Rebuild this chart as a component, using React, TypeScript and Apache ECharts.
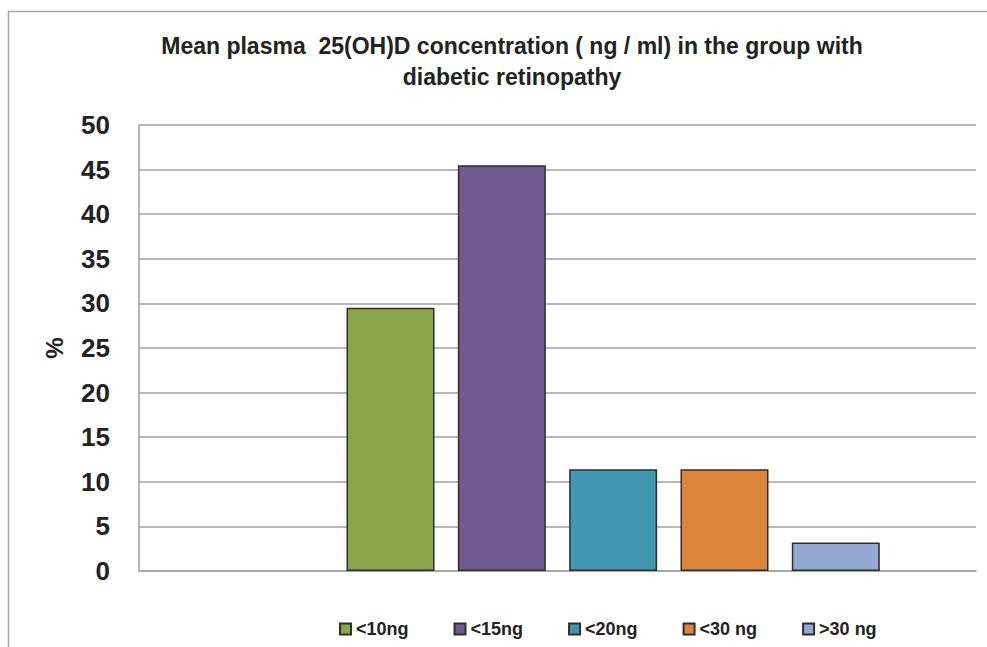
import React, { useEffect, useRef } from "react";
import * as echarts from "echarts";

const categories = [""];
const seriesNames = ["<10ng", "<15ng", "<20ng", "<30 ng", ">30 ng"];
const seriesValues = [29.5, 45.5, 11.4, 11.4, 3.2];
const seriesColors = ["#88A54A", "#715A8F", "#4197AF", "#DC853B", "#94A9D2"];
const yTicks = [0, 5, 10, 15, 20, 25, 30, 35, 40, 45, 50];
const titleLines = [
  "Mean plasma  25(OH)D concentration ( ng / ml) in the group with",
  "diabetic retinopathy",
];

export default function App() {
  const ref = useRef<HTMLDivElement>(null);
  useEffect(() => {
    document.body.style.margin = "0";
    const chart = echarts.init(ref.current!, null, { renderer: "svg" });
    const font = "'Liberation Sans', Arial, sans-serif";
    const blank = (name: string) => ({
      name,
      type: "bar",
      data: categories.map(() => null),
      barWidth: 88,
      barGap: "26.5%",
    });
    const real = seriesNames.map((name, i) => ({
      name,
      type: "bar",
      data: [seriesValues[i]],
      barWidth: 88,
      barGap: "26.5%",
      itemStyle: { color: seriesColors[i], borderColor: "#2f2f2f", borderWidth: 1.5 },
    }));
    chart.setOption({
      animation: false,
      backgroundColor: "#ffffff",
      title: {
        text: titleLines.join("\n"),
        left: 507,
        textAlign: "center",
        top: 25,
        textStyle: { fontFamily: font, fontWeight: "bold", fontSize: 23, color: "#222", lineHeight: 31 },
      },
      graphic: [
        {
          type: "rect",
          shape: { x: 8.5, y: 11.5, width: 1200, height: 800 },
          style: { fill: "none", stroke: "#a6a6a6", lineWidth: 1.5 },
          silent: true,
          z: -10,
        },
      ],
      legend: {
        data: seriesNames,
        bottom: 4,
        left: 334,
        itemWidth: 11,
        itemHeight: 11,
        itemGap: 45,
        icon: "rect",
        textStyle: { fontFamily: font, fontWeight: "bold", fontSize: 18, color: "#222" },
      },
      grid: { left: 139, right: 11, top: 125, bottom: 76, containLabel: false },
      xAxis: {
        type: "category",
        data: categories,
        axisLine: { lineStyle: { color: "#a0a0a0", width: 1.5 } },
        axisTick: { show: false },
        axisLabel: { show: false },
      },
      yAxis: {
        type: "value",
        min: yTicks[0],
        max: yTicks[yTicks.length - 1],
        interval: 5,
        name: "%",
        nameLocation: "middle",
        nameGap: 73,
        nameRotate: 90,
        nameTextStyle: { fontFamily: font, fontWeight: "bold", fontSize: 24, color: "#222" },
        axisLine: { show: true, lineStyle: { color: "#a0a0a0", width: 1.5 } },
        axisTick: { show: false },
        axisLabel: { fontFamily: font, fontWeight: "bold", fontSize: 26, color: "#222", margin: 29 },
        splitLine: { lineStyle: { color: "#a0a0a0", width: 1.5 } },
      },
      series: [blank("b1"), blank("b2"), ...real, blank("b3")],
    });
    return () => chart.dispose();
  }, []);
  return <div ref={ref} style={{ width: 987, height: 647 }} />;
}
